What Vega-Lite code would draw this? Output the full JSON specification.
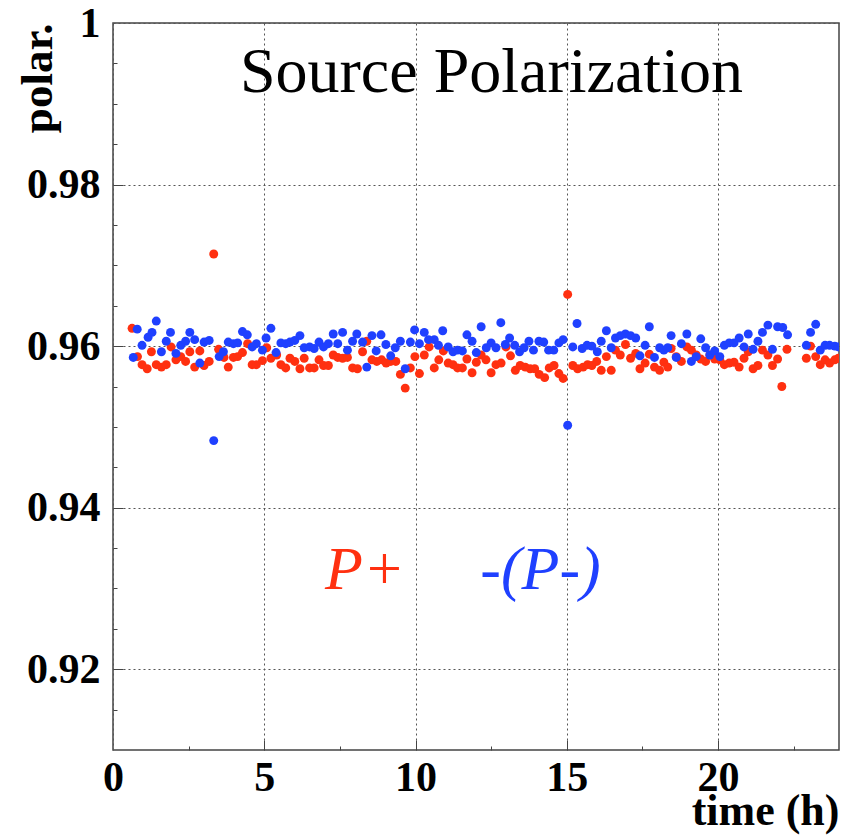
{
  "$schema": "https://vega.github.io/schema/vega-lite/v6.json",
  "width": 726,
  "height": 727,
  "autosize": {"type": "none"},
  "padding": {"left": 113, "top": 23, "right": 9, "bottom": 85},
  "background": "white",
  "config": {"view": {"stroke": "#444444", "strokeWidth": 1.5}, "font": "Liberation Serif"},
  "datasets": {
    "pts": [
      {"s":"P+","t":0.63,"p":0.9622},{"s":"P+","t":0.81,"p":0.9587},{"s":"P+","t":0.96,"p":0.9577},{"s":"P+","t":1.13,"p":0.9572},{"s":"P+","t":1.27,"p":0.9593},{"s":"P+","t":1.43,"p":0.9577},{"s":"P+","t":1.60,"p":0.9574},{"s":"P+","t":1.76,"p":0.9577},{"s":"P+","t":1.92,"p":0.9599},{"s":"P+","t":2.08,"p":0.9583},
      {"s":"P+","t":2.24,"p":0.9587},{"s":"P+","t":2.40,"p":0.9581},{"s":"P+","t":2.54,"p":0.9593},{"s":"P+","t":2.70,"p":0.9574},{"s":"P+","t":2.87,"p":0.9594},{"s":"P+","t":3.01,"p":0.9576},{"s":"P+","t":3.18,"p":0.9581},{"s":"P+","t":3.33,"p":0.9714},{"s":"P+","t":3.49,"p":0.9596},{"s":"P+","t":3.67,"p":0.9586},
      {"s":"P+","t":3.81,"p":0.9574},{"s":"P+","t":3.98,"p":0.9586},{"s":"P+","t":4.12,"p":0.9587},{"s":"P+","t":4.28,"p":0.9592},{"s":"P+","t":4.45,"p":0.9603},{"s":"P+","t":4.60,"p":0.9577},{"s":"P+","t":4.74,"p":0.9577},{"s":"P+","t":4.94,"p":0.9582},{"s":"P+","t":5.08,"p":0.9598},{"s":"P+","t":5.22,"p":0.9585},
      {"s":"P+","t":5.41,"p":0.9589},{"s":"P+","t":5.55,"p":0.9577},{"s":"P+","t":5.71,"p":0.9573},{"s":"P+","t":5.85,"p":0.9585},{"s":"P+","t":6.01,"p":0.9581},{"s":"P+","t":6.18,"p":0.9572},{"s":"P+","t":6.32,"p":0.9585},{"s":"P+","t":6.50,"p":0.9573},{"s":"P+","t":6.65,"p":0.9573},{"s":"P+","t":6.81,"p":0.9583},
      {"s":"P+","t":6.96,"p":0.9576},{"s":"P+","t":7.12,"p":0.9576},{"s":"P+","t":7.28,"p":0.9589},{"s":"P+","t":7.43,"p":0.9586},{"s":"P+","t":7.59,"p":0.9585},{"s":"P+","t":7.75,"p":0.9586},{"s":"P+","t":7.92,"p":0.9573},{"s":"P+","t":8.08,"p":0.9572},{"s":"P+","t":8.25,"p":0.9593},{"s":"P+","t":8.39,"p":0.9606},
      {"s":"P+","t":8.56,"p":0.9583},{"s":"P+","t":8.72,"p":0.9581},{"s":"P+","t":8.88,"p":0.9583},{"s":"P+","t":9.03,"p":0.9579},{"s":"P+","t":9.18,"p":0.9581},{"s":"P+","t":9.35,"p":0.9581},{"s":"P+","t":9.50,"p":0.9565},{"s":"P+","t":9.66,"p":0.9548},{"s":"P+","t":9.83,"p":0.9573},{"s":"P+","t":9.98,"p":0.9587},
      {"s":"P+","t":10.13,"p":0.9566},{"s":"P+","t":10.29,"p":0.9589},{"s":"P+","t":10.45,"p":0.9599},{"s":"P+","t":10.62,"p":0.9573},{"s":"P+","t":10.77,"p":0.9583},{"s":"P+","t":10.92,"p":0.9594},{"s":"P+","t":11.08,"p":0.9579},{"s":"P+","t":11.24,"p":0.9577},{"s":"P+","t":11.39,"p":0.9573},{"s":"P+","t":11.55,"p":0.9573},
      {"s":"P+","t":11.70,"p":0.9584},{"s":"P+","t":11.87,"p":0.9567},{"s":"P+","t":12.01,"p":0.958},{"s":"P+","t":12.17,"p":0.9589},{"s":"P+","t":12.33,"p":0.9583},{"s":"P+","t":12.50,"p":0.9567},{"s":"P+","t":12.66,"p":0.9577},{"s":"P+","t":12.83,"p":0.9579},{"s":"P+","t":12.99,"p":0.9599},{"s":"P+","t":13.14,"p":0.9588},
      {"s":"P+","t":13.30,"p":0.957},{"s":"P+","t":13.46,"p":0.9576},{"s":"P+","t":13.63,"p":0.9574},{"s":"P+","t":13.79,"p":0.9572},{"s":"P+","t":13.94,"p":0.9572},{"s":"P+","t":14.09,"p":0.9565},{"s":"P+","t":14.27,"p":0.9561},{"s":"P+","t":14.42,"p":0.9573},{"s":"P+","t":14.58,"p":0.9576},{"s":"P+","t":14.74,"p":0.9566},
      {"s":"P+","t":14.88,"p":0.956},{"s":"P+","t":15.03,"p":0.9664},{"s":"P+","t":15.20,"p":0.9576},{"s":"P+","t":15.36,"p":0.9572},{"s":"P+","t":15.54,"p":0.9574},{"s":"P+","t":15.69,"p":0.9577},{"s":"P+","t":15.83,"p":0.9576},{"s":"P+","t":15.99,"p":0.9581},{"s":"P+","t":16.14,"p":0.957},{"s":"P+","t":16.31,"p":0.9587},
      {"s":"P+","t":16.47,"p":0.957},{"s":"P+","t":16.61,"p":0.9595},{"s":"P+","t":16.77,"p":0.9589},{"s":"P+","t":16.94,"p":0.9602},{"s":"P+","t":17.11,"p":0.9585},{"s":"P+","t":17.28,"p":0.9591},{"s":"P+","t":17.42,"p":0.9572},{"s":"P+","t":17.59,"p":0.9579},{"s":"P+","t":17.73,"p":0.959},{"s":"P+","t":17.90,"p":0.9574},
      {"s":"P+","t":18.07,"p":0.957},{"s":"P+","t":18.21,"p":0.958},{"s":"P+","t":18.34,"p":0.9574},{"s":"P+","t":18.45,"p":0.9597},{"s":"P+","t":18.62,"p":0.9587},{"s":"P+","t":18.79,"p":0.9581},{"s":"P+","t":18.97,"p":0.9599},{"s":"P+","t":19.12,"p":0.9595},{"s":"P+","t":19.28,"p":0.9589},{"s":"P+","t":19.43,"p":0.9584},
      {"s":"P+","t":19.59,"p":0.9581},{"s":"P+","t":19.73,"p":0.9589},{"s":"P+","t":19.89,"p":0.9584},{"s":"P+","t":20.06,"p":0.9583},{"s":"P+","t":20.21,"p":0.9577},{"s":"P+","t":20.37,"p":0.9579},{"s":"P+","t":20.53,"p":0.958},{"s":"P+","t":20.70,"p":0.9574},{"s":"P+","t":20.86,"p":0.9585},{"s":"P+","t":21.00,"p":0.9593},
      {"s":"P+","t":21.16,"p":0.9572},{"s":"P+","t":21.32,"p":0.9576},{"s":"P+","t":21.47,"p":0.9595},{"s":"P+","t":21.65,"p":0.9589},{"s":"P+","t":21.80,"p":0.9576},{"s":"P+","t":21.97,"p":0.9584},{"s":"P+","t":22.11,"p":0.955},{"s":"P+","t":22.28,"p":0.9596},{"s":"P+","t":22.92,"p":0.9585},{"s":"P+","t":23.06,"p":0.96},
      {"s":"P+","t":23.23,"p":0.9587},{"s":"P+","t":23.38,"p":0.9577},{"s":"P+","t":23.54,"p":0.9583},{"s":"P+","t":23.69,"p":0.9579},{"s":"P+","t":23.86,"p":0.9583},{"s":"P+","t":23.98,"p":0.9585},
      {"s":"-(P-)","t":0.67,"p":0.9586},{"s":"-(P-)","t":0.80,"p":0.9621},{"s":"-(P-)","t":0.96,"p":0.9601},{"s":"-(P-)","t":1.16,"p":0.9611},{"s":"-(P-)","t":1.29,"p":0.9617},{"s":"-(P-)","t":1.43,"p":0.9631},{"s":"-(P-)","t":1.60,"p":0.9593},{"s":"-(P-)","t":1.76,"p":0.9606},{"s":"-(P-)","t":1.90,"p":0.9617},{"s":"-(P-)","t":2.08,"p":0.9591},
      {"s":"-(P-)","t":2.24,"p":0.9601},{"s":"-(P-)","t":2.40,"p":0.9606},{"s":"-(P-)","t":2.54,"p":0.9617},{"s":"-(P-)","t":2.70,"p":0.9608},{"s":"-(P-)","t":2.87,"p":0.9579},{"s":"-(P-)","t":3.01,"p":0.9605},{"s":"-(P-)","t":3.18,"p":0.9607},{"s":"-(P-)","t":3.33,"p":0.9483},{"s":"-(P-)","t":3.51,"p":0.9587},{"s":"-(P-)","t":3.65,"p":0.9593},
      {"s":"-(P-)","t":3.81,"p":0.9605},{"s":"-(P-)","t":3.98,"p":0.9603},{"s":"-(P-)","t":4.12,"p":0.9604},{"s":"-(P-)","t":4.28,"p":0.9618},{"s":"-(P-)","t":4.44,"p":0.9614},{"s":"-(P-)","t":4.60,"p":0.9599},{"s":"-(P-)","t":4.74,"p":0.9603},{"s":"-(P-)","t":4.94,"p":0.9595},{"s":"-(P-)","t":5.06,"p":0.961},{"s":"-(P-)","t":5.22,"p":0.9622},
      {"s":"-(P-)","t":5.39,"p":0.9592},{"s":"-(P-)","t":5.55,"p":0.9604},{"s":"-(P-)","t":5.71,"p":0.9603},{"s":"-(P-)","t":5.85,"p":0.9605},{"s":"-(P-)","t":6.01,"p":0.9607},{"s":"-(P-)","t":6.18,"p":0.9613},{"s":"-(P-)","t":6.32,"p":0.9598},{"s":"-(P-)","t":6.50,"p":0.9599},{"s":"-(P-)","t":6.65,"p":0.9597},{"s":"-(P-)","t":6.81,"p":0.9605},
      {"s":"-(P-)","t":6.96,"p":0.9599},{"s":"-(P-)","t":7.12,"p":0.9603},{"s":"-(P-)","t":7.28,"p":0.9615},{"s":"-(P-)","t":7.43,"p":0.9603},{"s":"-(P-)","t":7.59,"p":0.9617},{"s":"-(P-)","t":7.75,"p":0.9595},{"s":"-(P-)","t":7.92,"p":0.9606},{"s":"-(P-)","t":8.06,"p":0.9615},{"s":"-(P-)","t":8.25,"p":0.9605},{"s":"-(P-)","t":8.39,"p":0.9574},
      {"s":"-(P-)","t":8.56,"p":0.9613},{"s":"-(P-)","t":8.70,"p":0.9594},{"s":"-(P-)","t":8.86,"p":0.9614},{"s":"-(P-)","t":9.02,"p":0.9602},{"s":"-(P-)","t":9.18,"p":0.9588},{"s":"-(P-)","t":9.33,"p":0.9598},{"s":"-(P-)","t":9.50,"p":0.9606},{"s":"-(P-)","t":9.66,"p":0.9572},{"s":"-(P-)","t":9.83,"p":0.9605},{"s":"-(P-)","t":9.97,"p":0.962},
      {"s":"-(P-)","t":10.13,"p":0.9603},{"s":"-(P-)","t":10.29,"p":0.9617},{"s":"-(P-)","t":10.43,"p":0.9608},{"s":"-(P-)","t":10.62,"p":0.9608},{"s":"-(P-)","t":10.76,"p":0.9601},{"s":"-(P-)","t":10.90,"p":0.9619},{"s":"-(P-)","t":11.08,"p":0.9599},{"s":"-(P-)","t":11.24,"p":0.9593},{"s":"-(P-)","t":11.39,"p":0.9595},{"s":"-(P-)","t":11.55,"p":0.9594},
      {"s":"-(P-)","t":11.70,"p":0.9614},{"s":"-(P-)","t":11.87,"p":0.9606},{"s":"-(P-)","t":12.01,"p":0.9592},{"s":"-(P-)","t":12.17,"p":0.9624},{"s":"-(P-)","t":12.34,"p":0.9598},{"s":"-(P-)","t":12.50,"p":0.9604},{"s":"-(P-)","t":12.66,"p":0.9598},{"s":"-(P-)","t":12.82,"p":0.9629},{"s":"-(P-)","t":12.97,"p":0.9602},{"s":"-(P-)","t":13.11,"p":0.961},
      {"s":"-(P-)","t":13.28,"p":0.9601},{"s":"-(P-)","t":13.44,"p":0.9593},{"s":"-(P-)","t":13.59,"p":0.9598},{"s":"-(P-)","t":13.75,"p":0.9606},{"s":"-(P-)","t":13.90,"p":0.9595},{"s":"-(P-)","t":14.08,"p":0.9606},{"s":"-(P-)","t":14.24,"p":0.9605},{"s":"-(P-)","t":14.40,"p":0.9595},{"s":"-(P-)","t":14.57,"p":0.9595},{"s":"-(P-)","t":14.74,"p":0.9604},
      {"s":"-(P-)","t":14.88,"p":0.9608},{"s":"-(P-)","t":15.03,"p":0.9502},{"s":"-(P-)","t":15.20,"p":0.9599},{"s":"-(P-)","t":15.34,"p":0.9628},{"s":"-(P-)","t":15.51,"p":0.9597},{"s":"-(P-)","t":15.67,"p":0.9601},{"s":"-(P-)","t":15.83,"p":0.96},{"s":"-(P-)","t":16.01,"p":0.9593},{"s":"-(P-)","t":16.14,"p":0.9606},{"s":"-(P-)","t":16.31,"p":0.9619},
      {"s":"-(P-)","t":16.47,"p":0.9598},{"s":"-(P-)","t":16.61,"p":0.961},{"s":"-(P-)","t":16.77,"p":0.9613},{"s":"-(P-)","t":16.94,"p":0.9615},{"s":"-(P-)","t":17.11,"p":0.9613},{"s":"-(P-)","t":17.28,"p":0.961},{"s":"-(P-)","t":17.42,"p":0.9588},{"s":"-(P-)","t":17.59,"p":0.9601},{"s":"-(P-)","t":17.73,"p":0.9624},{"s":"-(P-)","t":17.90,"p":0.9586},
      {"s":"-(P-)","t":18.07,"p":0.9598},{"s":"-(P-)","t":18.21,"p":0.9595},{"s":"-(P-)","t":18.34,"p":0.9598},{"s":"-(P-)","t":18.45,"p":0.9613},{"s":"-(P-)","t":18.62,"p":0.9586},{"s":"-(P-)","t":18.79,"p":0.9603},{"s":"-(P-)","t":18.97,"p":0.9615},{"s":"-(P-)","t":19.12,"p":0.9581},{"s":"-(P-)","t":19.28,"p":0.9587},{"s":"-(P-)","t":19.43,"p":0.9609},
      {"s":"-(P-)","t":19.59,"p":0.9598},{"s":"-(P-)","t":19.73,"p":0.9589},{"s":"-(P-)","t":19.89,"p":0.9594},{"s":"-(P-)","t":20.06,"p":0.9587},{"s":"-(P-)","t":20.21,"p":0.9601},{"s":"-(P-)","t":20.37,"p":0.9604},{"s":"-(P-)","t":20.53,"p":0.9604},{"s":"-(P-)","t":20.70,"p":0.961},{"s":"-(P-)","t":20.86,"p":0.9599},{"s":"-(P-)","t":21.00,"p":0.9615},
      {"s":"-(P-)","t":21.16,"p":0.9596},{"s":"-(P-)","t":21.32,"p":0.9606},{"s":"-(P-)","t":21.47,"p":0.9617},{"s":"-(P-)","t":21.65,"p":0.9626},{"s":"-(P-)","t":21.80,"p":0.9596},{"s":"-(P-)","t":21.97,"p":0.9624},{"s":"-(P-)","t":22.14,"p":0.9623},{"s":"-(P-)","t":22.30,"p":0.9614},{"s":"-(P-)","t":22.92,"p":0.9601},{"s":"-(P-)","t":23.06,"p":0.9617},
      {"s":"-(P-)","t":23.23,"p":0.9627},{"s":"-(P-)","t":23.38,"p":0.9595},{"s":"-(P-)","t":23.54,"p":0.9601},{"s":"-(P-)","t":23.69,"p":0.9601},{"s":"-(P-)","t":23.86,"p":0.96},{"s":"-(P-)","t":23.98,"p":0.9599}
    ],
    "anchor": [{"t": 12, "p": 0.95}]
  },
  "layer": [
    {
      "data": {"name": "pts"},
      "mark": {"type": "point", "filled": true, "size": 80, "opacity": 1, "strokeWidth": 0, "clip": true},
      "encoding": {
        "x": {
          "field": "t", "type": "quantitative",
          "scale": {"domain": [0, 24], "nice": false, "zero": false},
          "axis": {
            "orient": "bottom", "values": [0, 5, 10, 15, 20], "format": "d",
            "grid": true, "gridColor": "#555555", "gridDash": [2, 3], "gridWidth": 1,
            "ticks": false, "tickSize": 0, "domain": false,
            "labelFont": "Liberation Serif", "labelFontWeight": "bold", "labelFontSize": 42, "labelColor": "black",
            "labelPadding": 7, "labelFlush": false, "labelOverlap": false, "labelBound": false,
            "title": "time (h)", "titleFont": "Liberation Serif", "titleFontWeight": "bold", "titleFontSize": 44, "titleColor": "black",
            "titleX": 726, "titleY": 74, "titleAlign": "right", "titleBaseline": "alphabetic", "titleAnchor": "end"
          }
        },
        "y": {
          "field": "p", "type": "quantitative",
          "scale": {"domain": [0.91, 1.0], "nice": false, "zero": false},
          "axis": {
            "orient": "left", "values": [0.92, 0.94, 0.96, 0.98, 1.0], "format": ".2~f",
            "grid": true, "gridColor": "#555555", "gridDash": [2, 3], "gridWidth": 1,
            "ticks": false, "tickSize": 0, "domain": false,
            "labelFont": "Liberation Serif", "labelFontWeight": "bold", "labelFontSize": 42, "labelColor": "black",
            "labelPadding": 13, "labelFlush": false, "labelOverlap": false, "labelBound": false, "labelBaseline": "middle",
            "title": "polar.", "titleFont": "Liberation Serif", "titleFontWeight": "bold", "titleFontSize": 45, "titleColor": "black",
            "titleAngle": 270, "titleX": -62, "titleY": 0, "titleAlign": "right", "titleBaseline": "alphabetic", "titleAnchor": "end"
          }
        },
        "color": {
          "field": "s", "type": "nominal",
          "scale": {"domain": ["P+", "-(P-)"], "range": ["#ff3010", "#1f40ff"]},
          "legend": null
        }
      }
    },
    {
      "data": {"name": "anchor"},
      "mark": {"type": "point", "opacity": 0},
      "encoding": {
        "x": {"field": "t", "type": "quantitative", "scale": {"domain": [0, 24], "nice": false, "zero": false},
          "axis": {"orient": "bottom", "values": [5, 10, 15, 20], "labels": false, "grid": false, "domain": false, "ticks": true, "tickSize": -10, "tickColor": "#444444", "tickWidth": 1, "title": null}},
        "y": {"field": "p", "type": "quantitative", "scale": {"domain": [0.91, 1.0], "nice": false, "zero": false},
          "axis": {"orient": "left", "values": [0.92, 0.94, 0.96, 0.98], "labels": false, "grid": false, "domain": false, "ticks": true, "tickSize": -10, "tickColor": "#444444", "tickWidth": 1, "title": null}}
      }
    },
    {
      "data": {"name": "anchor"},
      "mark": {"type": "point", "opacity": 0},
      "encoding": {
        "x": {"field": "t", "type": "quantitative", "scale": {"domain": [0, 24], "nice": false, "zero": false},
          "axis": {"orient": "bottom", "values": [2.5, 7.5, 12.5, 17.5, 22.5], "labels": false, "grid": false, "domain": false, "ticks": true, "tickSize": -4, "tickColor": "#444444", "tickWidth": 1, "title": null}},
        "y": {"field": "p", "type": "quantitative", "scale": {"domain": [0.91, 1.0], "nice": false, "zero": false},
          "axis": {"orient": "left", "values": [0.915, 0.925, 0.93, 0.935, 0.945, 0.95, 0.955, 0.965, 0.97, 0.975, 0.985, 0.99, 0.995], "labels": false, "grid": false, "domain": false, "ticks": true, "tickSize": -4, "tickColor": "#444444", "tickWidth": 1, "title": null}}
      }
    },
    {
      "data": {"name": "anchor"},
      "mark": {"type": "text", "font": "Liberation Serif", "fontSize": 64, "align": "center", "baseline": "alphabetic", "color": "black"},
      "encoding": {
        "x": {"datum": 12.51, "type": "quantitative", "axis": null},
        "y": {"datum": 0.99146, "type": "quantitative", "axis": null},
        "text": {"value": "Source Polarization"}
      }
    },
    {
      "data": {"name": "anchor"},
      "mark": {"type": "text", "font": "Liberation Serif", "fontSize": 62, "fontStyle": "italic", "align": "left", "baseline": "alphabetic", "color": "#ff3010"},
      "encoding": {
        "x": {"datum": 7.01, "type": "quantitative", "axis": null},
        "y": {"datum": 0.92993, "type": "quantitative", "axis": null},
        "text": {"value": "P+"}
      }
    },
    {
      "data": {"name": "anchor"},
      "mark": {"type": "text", "font": "Liberation Serif", "fontSize": 62, "fontStyle": "italic", "align": "left", "baseline": "alphabetic", "color": "#1f40ff"},
      "encoding": {
        "x": {"datum": 12.14, "type": "quantitative", "axis": null},
        "y": {"datum": 0.92993, "type": "quantitative", "axis": null},
        "text": {"value": "-(P-)"}
      }
    }
  ],
  "resolve": {"axis": {"x": "independent", "y": "independent"}}
}
